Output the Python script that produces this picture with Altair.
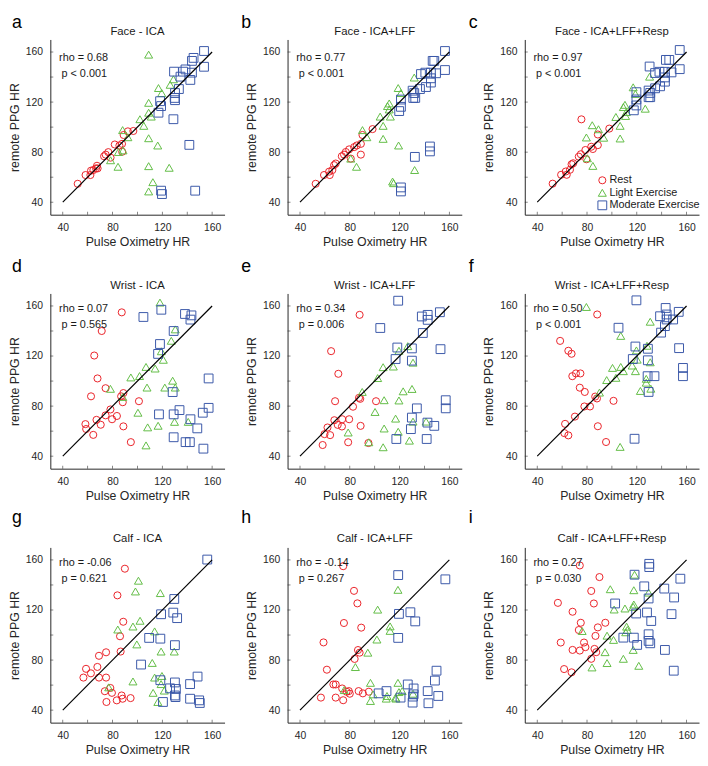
import altair as alt
import pandas as pd

GROUPS = ["Rest", "Light Exercise", "Moderate Exercise"]
COLORS = ["#ea2228", "#62bd45", "#3a58a8"]
SHAPES = ["circle", "triangle-up", "square"]
TICKS = [40, 60, 80, 100, 120, 140, 160]

# ---- panel metadata ----
letters = ["a", "b", "c", "d", "e", "f", "g", "h", "i"]
titles = ["Face - ICA", "Face - ICA+LFF", "Face - ICA+LFF+Resp",
          "Wrist - ICA", "Wrist - ICA+LFF", "Wrist - ICA+LFF+Resp",
          "Calf - ICA", "Calf - ICA+LFF", "Calf - ICA+LFF+Resp"]
rho_text = ["rho = 0.68", "rho = 0.77", "rho = 0.97",
            "rho = 0.07", "rho = 0.34", "rho = 0.50",
            "rho = -0.06", "rho = -0.14", "rho = 0.27"]
p_text = ["p < 0.001", "p < 0.001", "p < 0.001",
          "p = 0.565", "p = 0.006", "p < 0.001",
          "p = 0.621", "p = 0.267", "p = 0.030"]

# ---- data (Pulse Oximetry HR, remote PPG HR) ----
a_rest = [(52.0,54.7),(58.3,61.7),(62.2,61.7),(62.7,65.2),(64.6,65.7),(66.7,67.0),(67.5,69.1),(68,67),
          (73.2,76.7),(74.5,78),(76.6,80),(78.4,75.6),(81.8,86.1),(85.5,85.3),(87.6,86.6),(87.8,80.3),
          (88.9,93.7),(92.3,96.6),(96.7,96.9)]
a_light = [(109,157.9),(116.9,131.2),(119.5,127.2),(126.3,133.8),(128.9,138.2),(109,119.4),(109,111.5),
           (111.1,108.4),(102,106.3),(105.1,101),(109,91.1),(116.3,85.3),(88.1,97.6),(92.3,91.9),
           (84.7,80.1),(78.4,73.5),(84.4,68.3),(109,68.8),(125.5,67.5),(112.4,56),(109,48.6),(88.4,81.4)]
a_mod = [(153.5,160.8),(153.5,148.2),(145.1,155.3),(143.8,152.9),(129.4,144.3),(138.6,146.1),(136.7,144.3),
         (134.6,140.3),(142.5,137.7),(143.8,143.5),(133.3,130.4),(130.2,127.2),(129.9,123.3),(130.2,121.5),
         (118.2,120.7),(119,116.8),(116.9,111.5),(128.9,106.3),(141.7,85.8),(119,49.2),(119.7,46.5),(146.4,49.2)]

b_rest = [(52.6,54.7),(59.3,61.7),(63.4,64.4),(63.9,61.7),(66,65.7),(67.4,69.6),(68.7,70.9),(73.6,76.7),
          (75.4,78),(79.5,82.2),(83.5,84),(85.6,85.3),(88.9,86.6),(88.9,78),(90.2,93.7),(98.3,98.4),
          (80.8,74.8),(76.8,80.1)]
b_light = [(131.8,139.6),(118.9,131.2),(121,127.2),(111.7,118.9),(110.3,116.8),(111.7,114.1),(104.4,108.4),
           (112.6,108.4),(106.8,101),(106.8,90.6),(90.2,97.6),(93.7,91.9),(119.2,85.3),(80.8,74.8),
           (85.4,68.3),(132.1,65.7),(114.4,56.5),(115.2,55.2)]
b_mod = [(156.5,160.8),(156.5,145.6),(146.6,152.9),(147.9,152.9),(137.2,142.4),(140.7,143.5),(145.2,143.5),
         (149.3,143),(145.2,139),(145.2,135.6),(136.4,130.4),(141.2,132),(130.5,129.1),(131.8,127.2),
         (131,123.3),(132.6,123.3),(121.1,122),(121.1,116.2),(119.7,112.8),(132.3,76.2),(144.4,84.5),
         (144.4,80.6),(121.1,51.8),(121.1,48.6)]

c_rest = [(52.4,54.8),(59.2,61.9),(62.9,64.5),(63.7,61.9),(66.3,65.9),(67.6,70.3),(68.9,71.1),(73.4,76.4),
          (75,78.3),(75.5,106.2),(78.7,81.7),(79.5,74.3),(83.4,84.3),(84.7,82.5),(88.7,85.6),(88.7,94.1),
          (97.9,98.8)]
c_light = [(130.3,140.3),(117.1,131.8),(118.9,126.5),(110.5,117.8),(109.2,116),(111.6,112),(103.2,108.1),
           (111,108.9),(126.8,114.7),(106.6,101),(84.2,101.5),(89.2,98.3),(79.5,91.7),(93.4,91.5),
           (106.6,90.9),(80.3,75.1),(84.7,69)]
c_mod = [(154.5,161.6),(154.5,146.3),(143.4,153.7),(146.1,153.7),(130.3,148.4),(134.7,143.2),(138.2,144.2),
         (142.6,144.2),(147.9,143.7),(142.6,139.7),(142.6,136.3),(134.7,131),(138.7,132.6),(129.5,129.2),
         (130.8,127.3),(129.5,123.9),(130.8,123.9),(119.7,127.9),(119.7,122.1),(119.7,117.3),(117.6,113.4)]

d_rest = [(87.4,154.9),(71.3,140),(65.3,120.4),(67.9,102.1),(74.4,94.3),(62.7,87.8),(58.2,65.6),(58.8,61.7),
          (64.5,57),(67.1,69),(70.5,65.1),(74.4,72.6),(78.3,77.3),(79.6,69.5),(83.5,72.1),(86.9,87.8),
          (88.7,90.4),(88.2,83.1),(88.7,63.8),(94.7,51.2),(101.2,83.9)]
d_light = [(118.1,162.7),(130.4,141.3),(127.2,132.2),(119.2,123.8),(120.8,117),(106.9,111.3),(114.2,110),
           (94.7,102.9),(101.7,104),(128.3,100.3),(107.7,94.8),(122,94.8),(130.4,94.8),(78.3,93.8),
           (88.2,87.3),(100.4,74.7),(129.8,67.4),(140.8,67.4),(108.2,63),(116.6,64.3),(106.9,48.6)]
d_mod = [(104.8,151.2),(119.2,157),(138.2,153.6),(143.4,152.5),(142.6,149.1),(129.1,140),(118.1,129.6),
         (116.6,121.7),(157.2,102.1),(128.3,91.2),(117.3,73.4),(129.1,73.4),(133.8,76.8),(142.6,69.5),
         (152.5,74.7),(157.2,78.6),(148.1,62.2),(129.1,55.1),(138.7,51.2),(142.1,51.2),(153,46)]

e_rest = [(87.9,152.9),(65,123.9),(70.8,105.8),(68.2,83.9),(82.6,79.5),(87.4,86.6),(88.4,85.8),(101.1,83.9),
          (62.1,62.9),(59.7,57.6),(64.2,56.8),(58.2,48.9),(67.6,68.7),(70.3,65),(73.7,63.7),(73.9,69.5),
          (79.5,69.5),(78.7,51.1),(88.7,64.2),(95,50.5)]
e_light = [(126.6,127.9),(119.5,124.2),(130.8,114.7),(106.8,111.1),(115,111.6),(102.4,102.4),(90,91.3),
           (122.9,91.8),(130,93.7),(107.6,84.7),(119.5,84.5),(100.3,75.3),(116.8,70),(130.8,67.6),
           (141.3,67.6),(107.6,62.1),(118.9,59.5),(78.7,58.9),(95.3,51.1),(127.9,52.4),(106.8,47.1)]
e_mod = [(118.9,164.2),(104.5,142.4),(137.9,151.6),(142.6,152.9),(142.6,148.9),(152.4,155),(138.7,138.4),
         (118.2,126.8),(116.8,117.6),(129.9,126.1),(129.9,116.3),(152.9,125.5),(157.1,84.7),(157.1,78.2),
         (133.9,78.2),(129.9,70.8),(129.1,61.6),(142.4,66.8),(147.9,64.2),(117.4,53.7),(141.8,53.7)]

f_rest = [(88.2,153.2),(58.4,132.1),(65,124.2),(67.6,121.8),(68.2,103.9),(71.1,106.1),(74.7,106.1),
          (74.2,94.7),(78.2,91.3),(86.6,87.6),(88,86.1),(77.9,79.7),(82.4,79.7),(101.3,84.2),(70.3,71.6),
          (61.8,58.4),(65,56.6),(62.4,65.8),(88.7,63.9),(95.3,51.3)]
f_light = [(79.5,159.2),(130.8,147.4),(107.1,136.1),(128.2,128.2),(119.7,124.5),(120.3,117.1),(130.8,115),
           (100.5,110.5),(107.1,111.3),(103.2,102.6),(95.8,100.8),(109.2,107.9),(116.3,112.4),(118.9,107.9),
           (127.6,101.8),(127.6,98.7),(122.9,92.1),(131.3,93.9),(90,90.8),(106.6,47.4)]
f_mod = [(119.7,164.5),(105.3,142.6),(138.7,151.8),(143.2,158.4),(144,153.2),(144,149.2),(149.2,149.2),
         (153.7,155.3),(139.5,138.7),(142.6,143.9),(118.9,127.6),(116.8,117.6),(128.9,125.8),(128.9,116.6),
         (154,126.3),(157.1,110.5),(157.1,103.9),(128.7,103.9),(134.2,103.9),(129.5,91.3),(118.2,53.9)]

g_rest = [(89.9,153),(83.9,131.7),(88.6,110.6),(86,99),(86.5,86.8),(74.8,86.2),(69.1,83.4),(67.8,74.5),
          (58.7,73),(62.6,69.4),(56.6,66),(69.1,66),(74.8,66),(73.8,55.1),(79.5,53.8),(78.2,57.7),
          (75.1,46.5),(83.4,47.8),(87.3,51.7),(88.1,49.1),(94.5,49.6)]
g_light = [(100.8,143.4),(98.4,134.8),(118.4,133.5),(102.1,111.4),(96.4,106.8),(84.2,104.4),(113.8,102.9),
           (99.5,92.5),(119,86.8),(129.6,86.8),(111.9,77.7),(96.4,62.9),(113.8,66),(119.7,67.3),(119,60.8),
           (76.9,58.2),(112.6,53.8),(121.6,55.6),(116.4,46.5)]
g_mod = [(156.1,160.3),(129.6,128.8),(119,116.6),(128.8,117.9),(131.9,113.5),(109.4,97.7),(118.4,97.1),
         (130.1,91.9),(102.9,76.4),(118.4,63.9),(126.2,57.4),(130.1,62.1),(130.9,56.9),(130.1,51.7),
         (130.6,50.4),(142.3,60.8),(148.3,66.8),(142.3,49.1),(149.6,47.8),(150.1,45.7),(120.5,46.5)]

h_rest = [(74.7,155),(83.4,135.3),(86.1,125.3),(75.3,109.6),(89.2,105.9),(58.9,94.1),(86.6,88),(87.9,85.9),
          (83.9,80.9),(61.6,72.3),(66.8,60.5),(68.7,60.5),(73.9,57.3),(77.4,54.7),(79.2,55.2),(80,53.1),
          (87.1,55.2),(90.5,53.4),(95.3,54.7),(56.8,50),(68.7,50),(74.7,47.9)]
h_light = [(118.7,136.1),(102.4,120.3),(112.4,106.9),(112.4,103.3),(101.8,96.4),(94.5,85.9),(84.5,74.4),
           (96.6,61.8),(118.7,61.8),(75.5,56),(98.7,52.6),(109.9,51.3),(109.3,49.2),(116.8,50),(119.5,54.4),
           (122.1,55.2),(117.1,49.2),(96.6,47.3),(130.8,53.1)]
h_mod = [(118.9,147.9),(156.8,144.5),(119.5,116.9),(128.7,118.2),(132.6,110.9),(118.9,97.7),(149.7,71.5),
         (148.4,63.6),(151.1,51.3),(142.6,55.2),(126.6,60.5),(131.3,57.3),(131.3,52.6),(130.8,50.8),
         (130.5,46),(143.2,45.5),(120.8,50),(109.5,55.2),(103.2,53.4)]

i_rest = [(74.2,155.6),(90,146.3),(83.4,135.2),(56.6,125.7),(85.5,125.2),(68.4,118.6),(75,109.8),(73.4,104),
          (88.7,106.1),(94.7,109.8),(86.8,99.3),(58.9,94),(77.6,94),(78.7,90.3),(68.4,88.1),(74.2,87.6),
          (86,88.9),(87.4,86.3),(83.4,81),(61.6,72.8),(67.6,70.2)]
i_light = [(118.2,148.2),(98.7,136.6),(117.6,135.8),(129.5,133.9),(101.8,120.4),(110.5,121.2),(117.1,122.5),
           (117.6,124.4),(76.1,103.2),(96.1,99.5),(101.3,96.1),(111.8,106.7),(112.4,104),(111.1,102.2),
           (117.1,88.1),(94.5,86.3),(109.2,81),(96.1,77.6),(84,74.1),(121.6,75.4)]
i_mod = [(130,156.9),(130,154.3),(118.2,148.2),(126,138.9),(142.1,137.1),(155,145),(129.5,129.2),(150,130),
         (102.6,125.2),(119.5,117.2),(128.2,118),(131.6,111.2),(147.9,116.7),(109.2,97.9),(117.6,97.9),
         (120.3,92.1),(129.5,100.6),(129.5,95.3),(130.8,93.4),(142.6,88.1),(149.7,71.5)]

panel_data = [(a_rest, a_light, a_mod), (b_rest, b_light, b_mod), (c_rest, c_light, c_mod),
              (d_rest, d_light, d_mod), (e_rest, e_light, e_mod), (f_rest, f_light, f_mod),
              (g_rest, g_light, g_mod), (h_rest, h_light, h_mod), (i_rest, i_light, i_mod)]

FONT = "Liberation Sans"
W, H = 177, 178
DOM = [30, 170]
row_text_y = [(152.5, 140.0), (155.5, 142.0), (155.5, 142.0)]
letter_x = [-39, -47, -57]
letter_y = [-12, -22, -25]
SIZES = [52, 80, 46]


def make_panel(k):
    rest, light, mod = panel_data[k]
    rows = []
    for grp, pts in zip(GROUPS, (rest, light, mod)):
        for (x, y) in pts:
            rows.append({"x": x, "y": y, "group": grp})
    df = pd.DataFrame(rows)

    xenc = alt.X("x:Q", scale=alt.Scale(domain=DOM, nice=False),
                 axis=alt.Axis(values=TICKS, title="Pulse Oximetry HR"))
    yenc = alt.Y("y:Q", scale=alt.Scale(domain=DOM, nice=False),
                 axis=alt.Axis(values=TICKS, title="remote PPG HR"))
    shape = alt.Shape("group:N", scale=alt.Scale(domain=GROUPS, range=SHAPES), legend=None)
    color = alt.Color("group:N", scale=alt.Scale(domain=GROUPS, range=COLORS), legend=None)
    size = alt.Size("group:N", scale=alt.Scale(domain=GROUPS, range=SIZES), legend=None)

    points = alt.Chart(df).mark_point(filled=False, strokeWidth=1, opacity=1).encode(
        x=xenc, y=yenc, shape=shape, color=color, size=size)

    line_df = pd.DataFrame({"x": [40, 160], "y": [40, 160]})
    line = alt.Chart(line_df).mark_line(color="black", strokeWidth=1.2).encode(x="x:Q", y="y:Q")

    # inward tick marks (MATLAB style)
    tick_df = pd.DataFrame({"v": TICKS})
    xticks = alt.Chart(tick_df).mark_tick(orient="vertical", size=3, thickness=0.8,
                                          color="#262626").encode(x="v:Q", y=alt.value(H - 1.5))
    yticks = alt.Chart(tick_df).mark_tick(orient="horizontal", size=3, thickness=0.8,
                                          color="#262626").encode(y="v:Q", x=alt.value(1.5))

    ry, py = row_text_y[k // 3]
    txt_df = pd.DataFrame({"x": [37.0, 39.0], "y": [ry, py], "t": [rho_text[k], p_text[k]]})
    txt = alt.Chart(txt_df).mark_text(align="left", baseline="alphabetic", font=FONT,
                                      fontSize=11, color="#1a1a1a").encode(
        x="x:Q", y="y:Q", text="t:N")

    ttl_df = pd.DataFrame({"x": [100.0], "t": [titles[k]]})
    ttl = alt.Chart(ttl_df).mark_text(align="center", baseline="alphabetic", font=FONT,
                                      fontSize=11.5, color="#1a1a1a").encode(
        x="x:Q", y=alt.value(-5), text="t:N")

    let_df = pd.DataFrame({"t": [letters[k]]})
    let = alt.Chart(let_df).mark_text(align="left", baseline="alphabetic", font=FONT,
                                      fontSize=18, color="black").encode(
        x=alt.value(letter_x[k % 3]), y=alt.value(letter_y[k // 3]), text="t:N")

    layers = [points, line, xticks, yticks, txt, ttl, let]

    if k == 2:
        leg_df = pd.DataFrame({"group": GROUPS,
                               "x": [92.3] * 3,
                               "y": [57.5 - 10.0 * j for j in range(3)],
                               "tx": [98.0] * 3})
        leg_pts = alt.Chart(leg_df).mark_point(filled=False, strokeWidth=1, opacity=1).encode(
            x="x:Q", y="y:Q", shape=shape, color=color, size=size)
        leg_txt = alt.Chart(leg_df).mark_text(align="left", baseline="middle", font=FONT,
                                              fontSize=11, color="#1a1a1a").encode(
            x="tx:Q", y="y:Q", text="group:N")
        layers += [leg_pts, leg_txt]

    return alt.layer(*layers).properties(width=W, height=H)


panels = [make_panel(k) for k in range(9)]

chart = alt.concat(*panels, columns=3, spacing={"row": 80, "column": 64},
                   bounds="flush").properties(padding=0).configure_view(
    stroke=None).configure_axis(
    grid=False, ticks=False, tickSize=0, domainColor="#262626", domainWidth=1,
    labelFont=FONT, labelFontSize=10.5, labelColor="#262626", labelPadding=8,
    titleFont=FONT, titleFontSize=12.5, titleFontWeight="normal", titleColor="#262626"
).configure_axisX(titlePadding=3).configure_axisY(titlePadding=4)

chart.save("out.html", embed_options={"renderer": "svg", "actions": False})
